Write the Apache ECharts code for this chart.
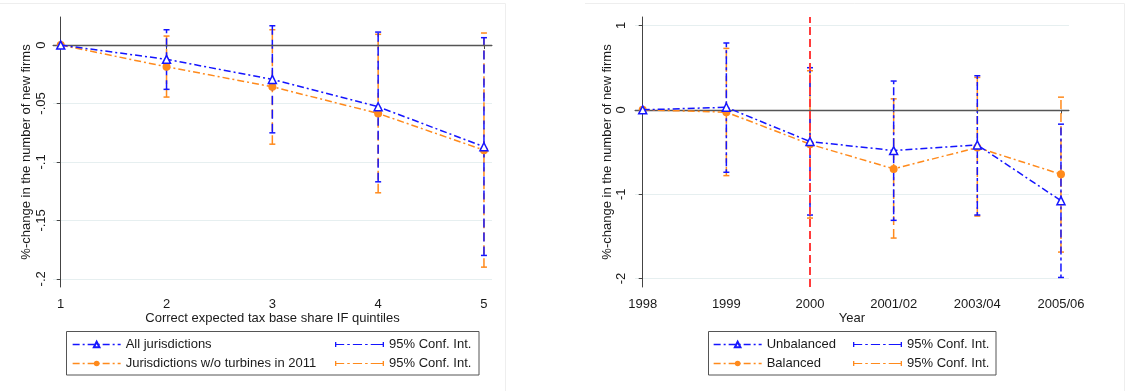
<!DOCTYPE html>
<html>
<head>
<meta charset="utf-8">
<script src="https://cdn.jsdelivr.net/npm/echarts@6/dist/echarts.min.js"></script>
<style>
html,body{margin:0;padding:0;background:#fff;}
#chart{width:1126px;height:391px;}
</style>
</head>
<body>
<div id="chart"></div>
<script>
// ---------- Data ----------
var leftCats = ['1', '2', '3', '4', '5'];
var leftYTicks = [-0.2, -0.15, -0.1, -0.05, 0];
var allJur = [0, -0.0122, -0.0294, -0.0528, -0.087];
var allJurLo = [null, -0.0379, -0.0751, -0.117, -0.180];
var allJurHi = [null, 0.0131, 0.0165, 0.0111, 0.0063];
var noTurb = [0, -0.0186, -0.0357, -0.0585, -0.0899];
var noTurbLo = [null, -0.0445, -0.0848, -0.1264, -0.190];
var noTurbHi = [null, 0.0077, 0.0131, 0.0092, 0.0103];

var rightCats = ['1998', '1999', '2000', '2001/02', '2003/04', '2005/06'];
var rightYTicks = [-2, -1, 0, 1];
var unbal = [0, 0.03, -0.376, -0.483, -0.416, -1.077];
var unbalLo = [null, -0.74, -1.247, -1.31, -1.247, -1.987];
var unbalHi = [null, 0.792, 0.499, 0.341, 0.404, -0.17];
var bal = [0, -0.028, -0.408, -0.70, -0.447, -0.764];
var balLo = [null, -0.78, -1.283, -1.52, -1.259, -1.686];
var balHi = [null, 0.728, 0.463, 0.13, 0.384, 0.15];
var reformIndex = 2; // 2000

// ---------- Styling ----------
var BLUE = '#1515ff';
var ORANGE = '#ff8a1c';
var FONT = '"Liberation Sans", Arial, sans-serif';
var TXT = '#1a1a1a';
var AX = '#444';
var GRIDC = '#e6eff0';

function stataNum(v) {
  if (Math.abs(v) < 1e-9) return '0';
  var s = String(Math.abs(+v.toFixed(4))).replace(/^0\./, '.');
  return (v < 0 ? '-' : '') + s;
}
function pts(arr) { return arr.map(function (v, i) { return [i, v]; }); }
function ciRows(lo, hi) {
  var r = [];
  for (var i = 0; i < lo.length; i++) if (lo[i] != null && hi[i] != null) r.push([i, lo[i], hi[i]]);
  return r;
}
function ciRender(color, dash) {
  return function (params, api) {
    var x = api.value(0), lo = api.value(1), hi = api.value(2);
    var a = api.coord([x, lo]), b = api.coord([x, hi]);
    var w = 3;
    var st = { stroke: color, lineWidth: 1.5, lineDash: dash, fill: null };
    var cs = { stroke: color, lineWidth: 1.5, fill: null };
    return { type: 'group', children: [
      { type: 'line', shape: { x1: a[0], y1: a[1], x2: b[0], y2: b[1] }, style: st },
      { type: 'line', shape: { x1: a[0] - w, y1: a[1], x2: a[0] + w, y2: a[1] }, style: cs },
      { type: 'line', shape: { x1: b[0] - w, y1: b[1], x2: b[0] + w, y2: b[1] }, style: cs }
    ]};
  };
}
var CI_ICON = 'path://M0,1h1.3v5h-1.3z M0,2.9h9v1.2h-9z M12,2.9h2.5v1.2h-2.5z M17.5,2.9h9v1.2h-9z M29.5,2.9h2.5v1.2h-2.5z M35,2.9h13v1.2h-13z M46.7,1h1.3v5h-1.3z';

var names = {
  allJur: 'All jurisdictions', noTurb: 'Jurisdictions w/o turbines in 2011',
  ciA: '95% Conf. Int.', ciB: '95% Conf. Int.',
  unbal: 'Unbalanced', bal: 'Balanced', ciC: '95% Conf. Int.', ciD: '95% Conf. Int.'
};

function xAxisCfg(gi, cats, min, max, title) {
  var vals = cats.map(function (c, i) { return i; });
  return {
    type: 'value', gridIndex: gi, min: min, max: max,
    name: title, nameLocation: 'middle', nameGap: 25, nameMoveOverlap: false,
    nameTextStyle: { fontFamily: FONT, fontSize: 13, color: TXT },
    axisLine: { show: true, lineStyle: { color: AX, width: 1 } },
    axisTick: { show: true, length: 4, lineStyle: { color: AX }, customValues: vals },
    axisLabel: { customValues: vals, formatter: function (v) { return cats[Math.round(v)]; },
      fontFamily: FONT, fontSize: 13, color: TXT, margin: 11 },
    splitLine: { show: false }
  };
}
function yAxisCfg(gi, ticks, min, max, gap, lm) {
  return {
    type: 'value', gridIndex: gi, min: min, max: max,
    name: '%-change in the number of new firms', nameLocation: 'middle', nameGap: gap, nameRotate: 90,
    nameTextStyle: { fontFamily: FONT, fontSize: 13, color: TXT },
    axisLine: { show: true, lineStyle: { color: AX, width: 1 } },
    axisTick: { show: true, length: 4, lineStyle: { color: AX }, customValues: ticks },
    axisLabel: { customValues: ticks, formatter: stataNum, rotate: 90,
      fontFamily: FONT, fontSize: 13, color: TXT, margin: lm },
    splitLine: { show: true, lineStyle: { color: GRIDC, width: 1.2 } }
  };
}
function lineSeries(key, xi, data, color, symbol, hollow, z) {
  return {
    type: 'line', name: key, xAxisIndex: xi, yAxisIndex: xi, data: pts(data),
    symbol: symbol, symbolSize: 8, showSymbol: true,
    lineStyle: { color: color, width: 1.5, type: [7, 3, 2, 3] },
    itemStyle: hollow ? { color: '#ffffff', borderColor: color, borderWidth: 1.5 } : { color: color },
    z: z, silent: true, animation: false
  };
}
function ciSeries(key, xi, lo, hi, color, dash, z) {
  return {
    type: 'custom', name: key, xAxisIndex: xi, yAxisIndex: xi,
    data: ciRows(lo, hi), renderItem: ciRender(color, dash),
    itemStyle: { color: color }, encode: { x: 0, y: [1, 2] }, z: z, silent: true, animation: false
  };
}
function legendCfg(keys, left, itemWidth, icons) {
  return {
    orient: 'vertical', left: left, top: 337, padding: 0, itemGap: 4,
    itemWidth: itemWidth, itemHeight: 7, selectedMode: false,
    lineStyle: { width: 1.3 },
    data: keys.map(function (k, i) { var d = { name: k }; if (icons) d.icon = icons[i]; return d; }),
    formatter: function (n) { return names[n]; },
    textStyle: { fontFamily: FONT, fontSize: 13, color: TXT, lineHeight: 15 }
  };
}

var chart = echarts.init(document.getElementById('chart'), null, { renderer: 'canvas' });
var option = {
  backgroundColor: '#ffffff',
  animation: false,
  grid: [
    { left: 53, top: 17, width: 439, height: 270, containLabel: false },
    { left: 635, top: 17, width: 434, height: 270, containLabel: false }
  ],
  xAxis: [
    xAxisCfg(0, leftCats, -0.073, 4.076, 'Correct expected tax base share IF quintiles'),
    xAxisCfg(1, rightCats, -0.092, 5.096, 'Year')
  ],
  yAxis: [
    yAxisCfg(0, leftYTicks, -0.207, 0.024, 20, 5),
    yAxisCfg(1, rightYTicks, -2.1, 1.1, 19, 7)
  ],
  legend: [
    legendCfg(['allJur', 'noTurb'], 72, 48),
    legendCfg(['ciA', 'ciB'], 335, 49, [CI_ICON, CI_ICON]),
    legendCfg(['unbal', 'bal'], 713, 48),
    legendCfg(['ciC', 'ciD'], 853, 49, [CI_ICON, CI_ICON])
  ],
  graphic: [
    { type: 'rect', shape: { x: 66.5, y: 331.5, width: 412.5, height: 43.5 }, style: { fill: null, stroke: '#555', lineWidth: 1 }, silent: true },
    { type: 'rect', shape: { x: 708.5, y: 331.5, width: 287.5, height: 43.5 }, style: { fill: null, stroke: '#555', lineWidth: 1 }, silent: true },
    { type: 'polyline', shape: { points: [[0, 3.5], [505.5, 3.5], [505.5, 391]] }, style: { stroke: '#eeeeee', lineWidth: 1, fill: null }, silent: true },
    { type: 'polyline', shape: { points: [[585, 3.5], [1124.5, 3.5], [1124.5, 391]] }, style: { stroke: '#eeeeee', lineWidth: 1, fill: null }, silent: true }
  ],
  series: [
    {
      type: 'line', name: 'zeroL', xAxisIndex: 0, yAxisIndex: 0, data: [], silent: true,
      markLine: { silent: true, symbol: 'none', label: { show: false }, animation: false,
        lineStyle: { color: '#555', width: 1.3, type: 'solid' }, data: [{ yAxis: 0 }] }
    },
    ciSeries('ciB', 0, noTurbLo, noTurbHi, ORANGE, [9, 4], 3),
    ciSeries('ciA', 0, allJurLo, allJurHi, BLUE, [9, 5], 4),
    lineSeries('noTurb', 0, noTurb, ORANGE, 'circle', false, 5),
    lineSeries('allJur', 0, allJur, BLUE, 'triangle', true, 6),
    {
      type: 'line', name: 'zeroR', xAxisIndex: 1, yAxisIndex: 1, data: [], silent: true,
      markLine: { silent: true, symbol: 'none', label: { show: false }, animation: false,
        lineStyle: { color: '#555', width: 1.3, type: 'solid' }, data: [{ yAxis: 0 }] }
    },
    ciSeries('ciD', 1, balLo, balHi, ORANGE, [9, 4], 3),
    ciSeries('ciC', 1, unbalLo, unbalHi, BLUE, [3, 3, 8, 3], 4),
    lineSeries('bal', 1, bal, ORANGE, 'circle', false, 5),
    lineSeries('unbal', 1, unbal, BLUE, 'triangle', true, 6),
    {
      type: 'line', name: 'reform', xAxisIndex: 1, yAxisIndex: 1, data: [], silent: true, z: 7,
      markLine: { silent: true, symbol: 'none', label: { show: false }, animation: false,
        lineStyle: { color: '#ff3b3b', width: 2, type: [8, 4] }, data: [{ xAxis: reformIndex }] }
    }
  ]
};
chart.setOption(option);
</script>
</body>
</html>
